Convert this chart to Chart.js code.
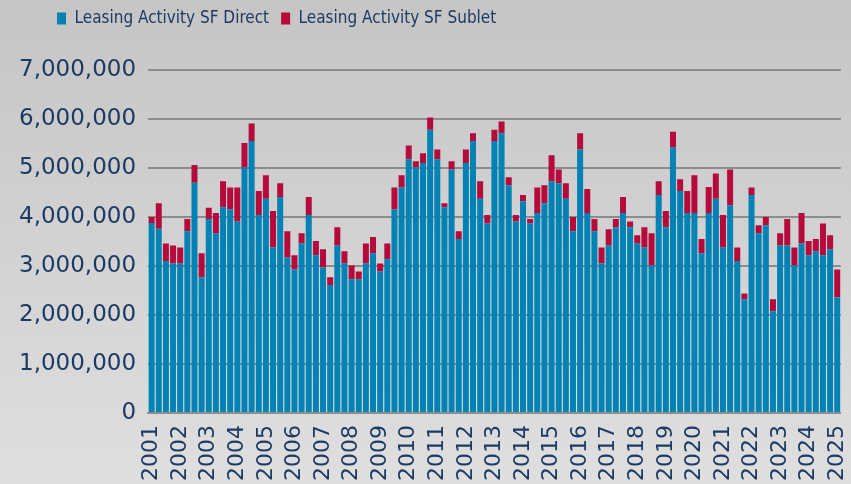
<!DOCTYPE html>
<html>
<head>
<meta charset="utf-8">
<script src="https://cdn.jsdelivr.net/npm/chart.js@4/dist/chart.umd.min.js"></script>
<style>
html,body{margin:0;padding:0;}
body{width:851px;height:484px;background:linear-gradient(#c5c5c5,#dfdfdf);overflow:hidden;}
#wrap{position:absolute;left:0;top:0;width:851px;height:484px;}
</style>
</head>
<body>
<div id="wrap"><canvas id="c" width="851" height="484"></canvas></div>
<script>
// Year tick labels (one per Q1)
const yearLabels = ['2001','2002','2003','2004','2005','2006','2007','2008','2009','2010','2011','2012','2013','2014','2015','2016','2017','2018','2019','2020','2021','2022','2023','2024','2025'];
const quarters = ['Q1','Q2','Q3','Q4'];

// Leasing Activity SF Direct (quarterly, 2001 Q1 - 2025 Q1)
const directSF = [
 3880000,3760000,3100000,3050000, 3050000,3710000,4700000,2770000,
 3960000,3670000,4200000,4160000, 3910000,5010000,5550000,4040000,
 4370000,3380000,4410000,3180000, 2930000,3460000,4040000,3220000,
 2970000,2610000,3420000,3050000, 2730000,2730000,3050000,3260000,
 2890000,3140000,4160000,4600000, 5180000,5010000,5100000,5780000,
 5180000,4200000,4970000,3550000, 5100000,5550000,4370000,3870000,
 5550000,5710000,4650000,3910000, 4320000,3870000,4080000,4280000,
 4730000,4690000,4370000,3710000, 5380000,4080000,3710000,3050000,
 3420000,3790000,4080000,3790000, 3460000,3380000,3010000,4450000,
 3790000,5420000,4530000,4080000, 4080000,3260000,4080000,4370000,
 3380000,4240000,3100000,2320000, 4450000,3670000,3830000,2070000,
 3420000,3420000,3010000,3460000, 3220000,3300000,3220000,3340000,
 2360000
];
// Leasing Activity SF Sublet
const subletSF = [
 120000,520000,360000,370000, 330000,250000,360000,490000,
 230000,410000,530000,440000, 690000,500000,360000,490000,
 480000,740000,280000,530000, 290000,210000,370000,290000,
 370000,160000,370000,250000, 280000,160000,410000,330000,
 160000,320000,440000,250000, 280000,130000,200000,250000,
 200000,80000,170000,160000, 280000,160000,360000,170000,
 230000,240000,160000,130000, 130000,90000,520000,370000,
 530000,280000,320000,290000, 330000,490000,250000,330000,
 330000,170000,330000,120000, 170000,410000,660000,280000,
 330000,320000,240000,450000, 770000,290000,530000,520000,
 660000,730000,280000,120000, 150000,160000,170000,250000,
 250000,540000,370000,620000, 290000,250000,650000,290000,
 570000
];

const categories = [];
for (let i = 0; i < directSF.length; i++) {
  categories.push(yearLabels[Math.floor(i / 4)] + ' ' + quarters[i % 4]);
}

const navy = '#1c3a63';
const tickFont = '"DejaVu Sans", "Liberation Sans", sans-serif';
const legendFont = '"DejaVu Sans Condensed", "Liberation Sans", sans-serif';

// shifts the legend row to the right (layout only)
const legendShift = {
  id: 'legendShift',
  afterLayout(chart) {
    if (chart.legend) { chart.legend.left += 38; chart.legend.right += 38; }
  }
};

new Chart(document.getElementById('c'), {
  type: 'bar',
  data: {
    labels: categories,
    datasets: [
      {label: 'Leasing Activity SF Direct', data: directSF, backgroundColor: '#0083b4', borderWidth: 0},
      {label: 'Leasing Activity SF Sublet', data: subletSF, backgroundColor: '#b50a3b', borderWidth: 0}
    ]
  },
  plugins: [legendShift],
  options: {
    responsive: false,
    animation: false,
    devicePixelRatio: 1,
    layout: {padding: {left: 7, right: -37, top: -2, bottom: -9}},
    datasets: {bar: {categoryPercentage: 1.0, barPercentage: 0.84}},
    plugins: {
      legend: {
        position: 'top',
        align: 'start',
        labels: {
          color: navy,
          font: {family: legendFont, size: 17},
          boxWidth: 9,
          boxHeight: 12,
          padding: 12
        }
      },
      title: {
        display: true,
        text: '',
        weight: 500,
        font: {size: 10},
        padding: {top: 0, bottom: 21}
      },
      tooltip: {enabled: false}
    },
    scales: {
      x: {
        stacked: true,
        grid: {display: false, drawTicks: false},
        border: {display: true, color: '#8c8c8c', width: 2},
        ticks: {
          autoSkip: false,
          maxRotation: 90,
          minRotation: 90,
          padding: 12,
          color: navy,
          font: {family: tickFont, size: 22, lineHeight: 0.08},
          callback: function(v, i) { return i % 4 === 0 ? yearLabels[i / 4] : ''; }
        }
      },
      y: {
        stacked: true,
        min: 0,
        max: 7000000,
        grid: {color: '#8c8c8c', lineWidth: 2, drawTicks: false},
        border: {display: false},
        ticks: {
          stepSize: 1000000,
          padding: 12,
          color: navy,
          font: {family: tickFont, size: 23},
          callback: function(v) { return v.toLocaleString('en-US'); }
        }
      }
    }
  }
});
</script>
</body>
</html>
